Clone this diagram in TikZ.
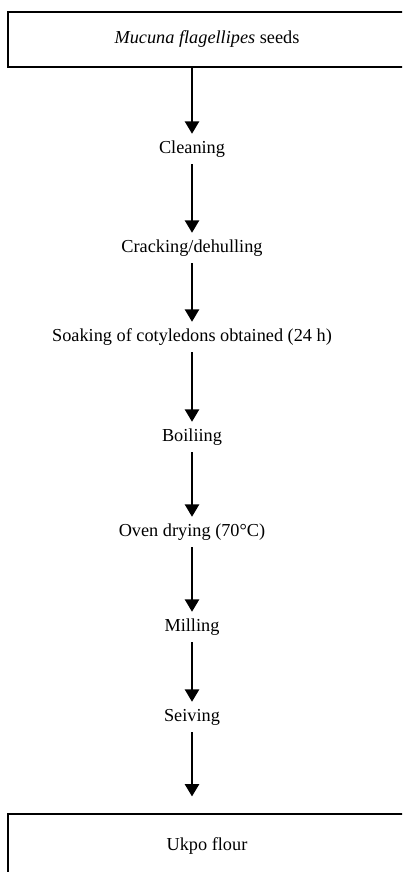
\documentclass[tikz,border=0pt]{standalone}
\usepackage{fontspec}
\setmainfont{Liberation Serif}
\usetikzlibrary{arrows.meta}
\tikzset{
    stage/.style={draw,line width=1.1pt,minimum width=9.95cm,minimum height=1.375cm,inner sep=0pt,font=\fontsize{13}{16}\selectfont},
    stepbox/.style={minimum height=0.75cm,inner sep=0pt,font=\fontsize{13}{16}\selectfont},
    flow/.style={line width=1.1pt,-{Triangle[width=3.6mm,length=3.1mm]}}
}

\begin{document}
\begin{tikzpicture}[x=0.025cm,y=-0.025cm]
                    \useasboundingbox (0,0) rectangle (402,872);
                    \clip (0,0) rectangle (402,872);
                    \draw (207,39.5) node[stage,name=seeds] {\raisebox{-2.5pt}{\textit{Mucuna flagellipes} seeds}};
                    \draw (192,149) node[stepbox,name=clean] {Cleaning};
                    \draw (192,248) node[stepbox,name=crack] {Cracking/dehulling};
                    \draw (192,337) node[stepbox,name=soak] {Soaking of cotyledons obtained (24 h)};
                    \draw (192,437) node[stepbox,name=boil] {Boiliing};
                    \draw (192,532) node[stepbox,name=dry] {Oven drying (70\textdegree C)};
                    \draw (192,627) node[stepbox,name=mill] {Milling};
                    \draw (192,717) node[stepbox,name=sieve] {Seiving};
                    \draw (207,846) node[stage,minimum height=1.6cm,name=flour] {\raisebox{3pt}{Ukpo flour}};
                    \draw[flow] (seeds.south -| clean.north) -- (clean.north);
                    \draw[flow] (clean.south) -- (crack.north);
                    \draw[flow] (crack.south) -- (soak.north);
                    \draw[flow] (soak.south) -- (boil.north);
                    \draw[flow] (boil.south) -- (dry.north);
                    \draw[flow] (dry.south) -- (mill.north);
                    \draw[flow] (mill.south) -- (sieve.north);
                    \draw[flow,shorten >=0.42cm] (sieve.south) -- (flour.north -| sieve.south);
                \end{tikzpicture}
\end{document}
